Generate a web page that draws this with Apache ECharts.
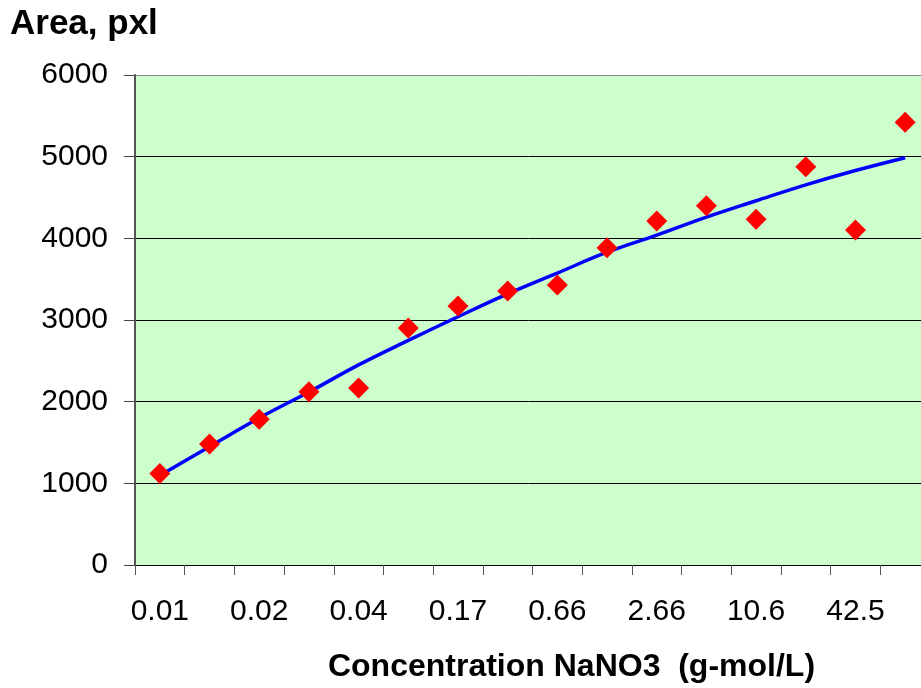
<!DOCTYPE html>
<html><head><meta charset="utf-8">
<script src="https://cdn.jsdelivr.net/npm/echarts@6/dist/echarts.min.js"></script>
<style>html,body{margin:0;padding:0;background:#fff}#c{width:921px;height:688px}</style>
</head><body><div id="c"></div>
<script>
const categories = ["0.01","0.015","0.02","0.03","0.04","0.08","0.17","0.33","0.66","1.33","2.66","5.3","10.6","21.2","42.5","85"];
const measured = [1120,1482,1784,2122,2167,2902,3171,3355,3429,3885,4212,4400,4233,4877,4102,5421];
const trend = [1095,1449,1800,2118,2450,2750,3040,3320,3575,3830,4040,4260,4460,4655,4830,4987];
const yTicks = {min:0, max:6000, interval:1000};

const chart = echarts.init(document.getElementById('c'), null, {renderer:'canvas'});
const ff = 'Liberation Sans, Arial, sans-serif';
chart.setOption({
  animation:false,
  backgroundColor:'#ffffff',
  title:{text:'Area, pxl', left:10, top:7, padding:0, textStyle:{fontFamily:ff, fontWeight:'bold', fontSize:35, color:'#000'}},
  grid:{left:135, top:75, width:795, height:490, show:true, backgroundColor:'#CCFFCC', borderWidth:0, containLabel:false, outerBoundsMode:'none'},
  xAxis:{type:'category', data:categories, boundaryGap:true,
    name:'Concentration NaNO3  (g-mol/L)', nameLocation:'middle', nameGap:86,
    nameTextStyle:{fontFamily:ff, fontWeight:'bold', fontSize:32, color:'#000', padding:[0,0,0,78]},
    axisLine:{show:true, lineStyle:{color:'#000', width:1}},
    axisTick:{show:true, interval:0, length:10, alignWithLabel:false, lineStyle:{color:'#555', width:1}},
    axisLabel:{interval:1, margin:32, fontFamily:ff, fontSize:30, color:'#000'},
    splitLine:{show:false}},
  yAxis:{type:'value', min:yTicks.min, max:yTicks.max, interval:yTicks.interval,
    axisLine:{show:true, lineStyle:{color:'#555', width:2}},
    axisTick:{show:true, length:11, lineStyle:{color:'#444', width:1}},
    axisLabel:{margin:27, fontFamily:ff, fontSize:30, color:'#000', formatter:function(v){return String(v);}},
    splitLine:{show:true, lineStyle:{color:['#000','#000','#000','#000','#000','#000','#888'], width:1}}},
  series:[
    {type:'line', data:trend, smooth:0.4, symbol:'none', lineStyle:{color:'#0000FF', width:3.5}, z:2},
    {type:'scatter', data:measured, symbol:'diamond', symbolSize:[21,21], itemStyle:{color:'#FF0000', opacity:1}, z:3}
  ]
});
</script></body></html>
